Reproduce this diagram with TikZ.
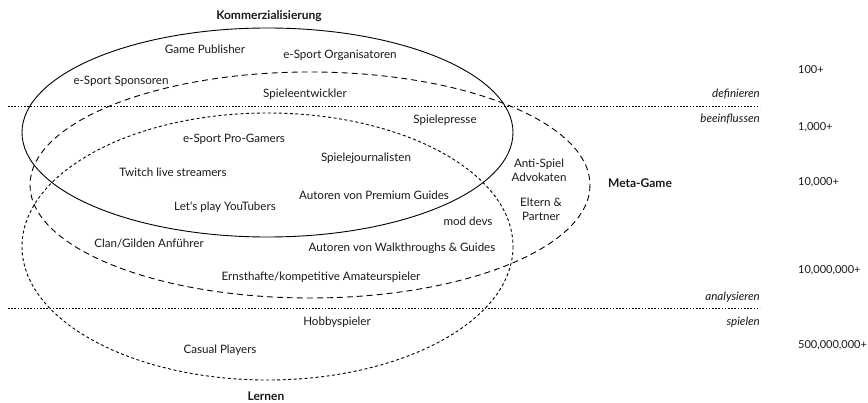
\documentclass[tikz,border=0pt]{standalone}
\usepackage{fontspec}
\setmainfont{Lato}
\usepackage{tikz}

\begin{document}
\begin{tikzpicture}[x=1pt,y=-1pt,
txt/.style={inner sep=0pt,font=\fontsize{11.6}{13.5}\selectfont,text=black!90},
head/.style={txt,font=\fontsize{12}{14}\selectfont\bfseries},
verb/.style={txt,anchor=east,font=\fontsize{11.6}{13.5}\selectfont\itshape},
count/.style={txt,anchor=west,font=\fontsize{11}{13}\selectfont},
level/.style={line width=0.7pt,dash pattern=on 1.6pt off 1.6pt}]
\useasboundingbox (0,0) rectangle (868,403);

% Kreise
\draw[line width=0.9pt] (267.5,132.5) ellipse (245.5 and 104.5);
\draw[line width=0.9pt,dash pattern=on 6pt off 4pt] (310,185) ellipse (280 and 113);
\draw[line width=0.9pt,dash pattern=on 3pt off 2.5pt] (267.5,246.5) ellipse (245.5 and 133.5);

% Ebenen
\coordinate (l1a) at (8,106);
\coordinate (l1b) at (760,106);
\coordinate (l2a) at (8,308);
\coordinate (l2b) at (760,308);
\draw[level] (l1a) -- (l1b);
\draw[level] (l2a) -- (l2b);

\node[head] (komm) at (269,16) {Kommerzialisierung};
\node[head] (meta) at (640,183) {Meta-Game};
\node[head] (lern) at (266,396) {Lernen};

\node[txt] (pub) at (205,49) {Game Publisher};
\node[txt] (orga) at (340,55) {e-Sport Organisatoren};
\node[txt] (spons) at (121,81) {e-Sport Sponsoren};
\node[txt] (dev) at (305,94) {Spieleentwickler};
\node[txt] (presse) at (445,120) {Spielepresse};
\node[txt] (pro) at (234,139) {e-Sport Pro-Gamers};
\node[txt] (journ) at (366,158) {Spielejournalisten};
\node[txt] (twitch) at (173,172) {Twitch live streamers};
\node[txt] (premium) at (374,195) {Autoren von Premium Guides};
\node[txt] (yt) at (225,207) {Let‘s play YouTubers};
\node[txt,align=center] (anti) at (539,170.5) {Anti-Spiel\\Advokaten};
\node[txt,align=center] (eltern) at (541,209.5) {Eltern \&\\Partner};
\node[txt] (mod) at (468,221) {mod devs};
\node[txt] (clan) at (149,243) {Clan/Gilden Anführer};
\node[txt] (walk) at (402,248) {Autoren von Walkthroughs \& Guides};
\node[txt] (amateur) at (321,277) {Ernsthafte/kompetitive Amateurspieler};
\node[txt] (hobby) at (337,322) {Hobbyspieler};
\node[txt] (casual) at (220,350) {Casual Players};

\node[verb] (def) at (760,94) {definieren};
\node[verb] (bee) at (760,119) {beeinflussen};
\node[verb] (ana) at (760,297) {analysieren};
\node[verb] (spi) at (760,322) {spielen};

\node[count] (n1) at (798,70) {100+};
\node[count] (n2) at (798,127) {1,000+};
\node[count] (n3) at (798,182) {10,000+};
\node[count] (n4) at (798,270) {10,000,000+};
\node[count] (n5) at (798,345) {500,000,000+};
\end{tikzpicture}
\end{document}
